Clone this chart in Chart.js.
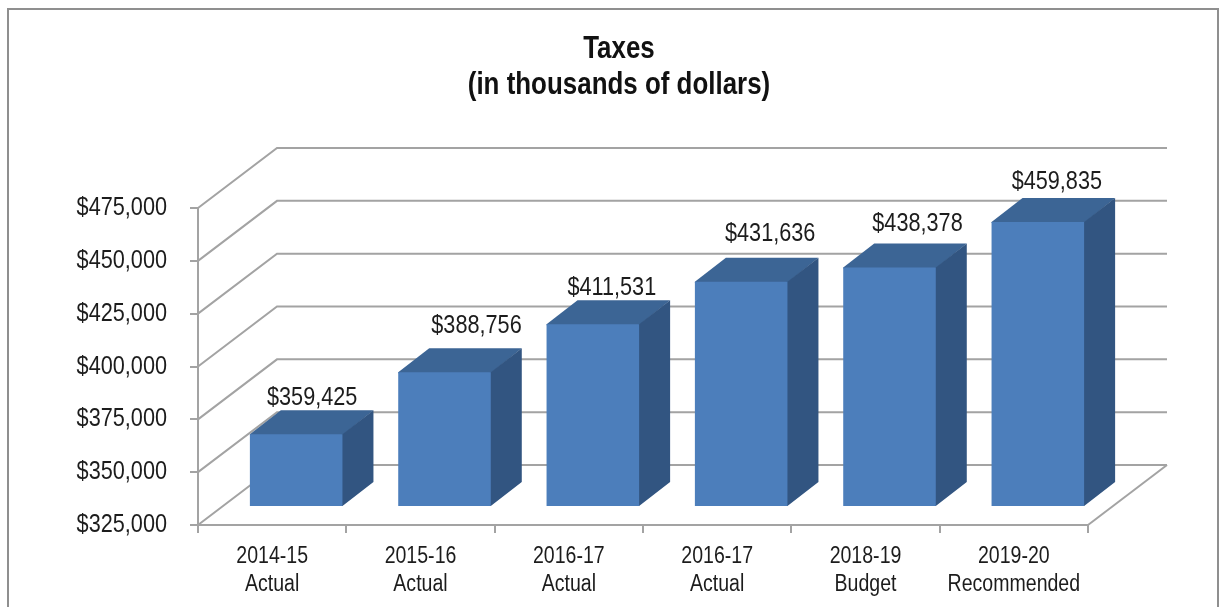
<!DOCTYPE html>
<html>
<head>
<meta charset="utf-8">
<title>Taxes</title>
<script src="https://cdn.jsdelivr.net/npm/chart.js@4"></script>
<style>
  html, body { margin: 0; padding: 0; background: #fff; overflow: hidden; }
  #wrap { width: 1225px; height: 607px; }
</style>
</head>
<body>
<div id="wrap"><canvas id="taxesChart" width="1225" height="607"></canvas></div>
<script>
const titleLines = ['Taxes', '(in thousands of dollars)']
const categories = [
  ['2014-15', 'Actual'],
  ['2015-16', 'Actual'],
  ['2016-17', 'Actual'],
  ['2016-17', 'Actual'],
  ['2018-19', 'Budget'],
  ['2019-20', 'Recommended'],
]
const taxValues = [359425, 388756, 411531, 431636, 438378, 459835]
const yMin = 325000
const yMax = 475000
const yStep = 25000

const FONT = '"Liberation Sans", Arial, sans-serif'
const TEXT = '#1c1c1c'
const GRID = '#a3a3a3'
const FRAME = '#8f8f8f'
// the original text is a narrow, stretched Arial
const TEXT_SQUEEZE = 0.85

// fake 3d, all in pixels
const wallDepth = { x: 79, y: -60 }
const barShift = { x: 24, y: -18 }
const barDepth = { x: 31, y: -24 }
// the labels in the picture do not sit at a fixed place over the bars
const labelNudge = [
  { x: 16, y: -29 }, { x: 32, y: -39 }, { x: 19, y: -29 },
  { x: 29, y: -41 }, { x: 28, y: -36 }, { x: 19, y: -33 },
]

const fake3d = {
  id: 'fake3d',
  afterLayout(chart) {
    // title is centred on the frame, not on the plot
    chart.titleBlock.left = 13
    chart.titleBlock.right = 1225
  },
  beforeDraw(chart) {
    const { ctx, width, height } = chart
    ctx.save()
    ctx.strokeStyle = FRAME
    ctx.lineWidth = 2
    ctx.beginPath()
    ctx.moveTo(8, height)
    ctx.lineTo(8, 9)
    ctx.lineTo(width - 7, 9)
    ctx.lineTo(width - 7, height)
    ctx.stroke()
    ctx.restore()
  },
  beforeDatasetsDraw(chart) {
    const { ctx, chartArea, scales } = chart
    ctx.save()
    ctx.strokeStyle = GRID
    ctx.lineWidth = 2
    ctx.lineJoin = 'miter'
    scales.y.ticks.forEach(t => {
      const y = scales.y.getPixelForValue(t.value)
      ctx.beginPath()
      ctx.moveTo(chartArea.left, y)
      ctx.lineTo(chartArea.left + wallDepth.x, y + wallDepth.y)
      ctx.lineTo(chartArea.right + wallDepth.x, y + wallDepth.y)
      ctx.stroke()
    })
    // right edge of the floor
    ctx.beginPath()
    ctx.moveTo(chartArea.right, chartArea.bottom)
    ctx.lineTo(chartArea.right + wallDepth.x, chartArea.bottom + wallDepth.y)
    ctx.stroke()
    ctx.restore()

    ctx.save()
    ctx.translate(barShift.x, barShift.y)
    chart.getDatasetMeta(0).data.forEach(bar => {
      const l = bar.x - bar.width / 2
      const r = bar.x + bar.width / 2
      // top face first, side over it, both run 1px under the front face so no seam shows
      ctx.fillStyle = '#3c6595'
      ctx.beginPath()
      ctx.moveTo(l, bar.y + 1)
      ctx.lineTo(l, bar.y)
      ctx.lineTo(l + barDepth.x, bar.y + barDepth.y)
      ctx.lineTo(r + barDepth.x, bar.y + barDepth.y)
      ctx.lineTo(r, bar.y + 1)
      ctx.closePath()
      ctx.fill()
      ctx.fillStyle = '#325581'
      ctx.beginPath()
      ctx.moveTo(r - 1, bar.y)
      ctx.lineTo(r, bar.y)
      ctx.lineTo(r + barDepth.x, bar.y + barDepth.y)
      ctx.lineTo(r + barDepth.x, bar.base + barDepth.y)
      ctx.lineTo(r, bar.base)
      ctx.lineTo(r - 1, bar.base)
      ctx.closePath()
      ctx.fill()
    })
    // front faces are drawn by the library inside this translate
  },
  afterDatasetsDraw(chart) {
    const { ctx } = chart
    ctx.restore()
    ctx.save()
    ctx.font = '25.5px ' + FONT
    ctx.fillStyle = TEXT
    ctx.textAlign = 'center'
    ctx.textBaseline = 'alphabetic'
    chart.getDatasetMeta(0).data.forEach((bar, i) => {
      const n = labelNudge[i]
      ctx.fillText(fmtMoney(taxValues[i]), bar.x + barShift.x + n.x, bar.y + barShift.y + n.y)
    })
    ctx.restore()
  },
}

function fmtMoney(v) {
  return '$' + v.toLocaleString('en-US')
}

const ctx = document.getElementById('taxesChart').getContext('2d')

// squeeze every text around its anchor, textAlign keeps working
const rawFillText = ctx.fillText.bind(ctx)
ctx.fillText = (s, x, y) => {
  ctx.save()
  ctx.translate(x, y)
  ctx.scale(TEXT_SQUEEZE, 1)
  rawFillText(s, 0, 0)
  ctx.restore()
}

new Chart(ctx, {
  type: 'bar',
  data: {
    labels: categories,
    datasets: [{
      data: taxValues,
      base: yMin,
      backgroundColor: '#4c7ebb',
      borderWidth: 0,
      barPercentage: 0.624,
      categoryPercentage: 1,
      clip: false,
    }],
  },
  options: {
    responsive: false,
    animation: false,
    layout: { padding: { left: 0, right: 137, top: 0, bottom: 0 } },
    plugins: {
      legend: { display: false },
      tooltip: { enabled: false },
      title: {
        display: true,
        text: titleLines,
        color: '#111',
        font: { family: FONT, size: 30.5, weight: 'bold', lineHeight: 1.2 },
        padding: { top: 31, bottom: 103.8 },
      },
    },
    scales: {
      x: {
        afterFit(scale) { scale.height = 82 },
        grid: { color: GRID, lineWidth: 2, drawOnChartArea: false, tickLength: 8 },
        border: { color: GRID, width: 2 },
        ticks: {
          color: TEXT,
          padding: 10,
          maxRotation: 0,
          autoSkip: false,
          font: { family: FONT, size: 23, lineHeight: 1.2 },
        },
      },
      y: {
        min: yMin,
        max: yMax,
        afterFit(scale) { scale.width = 198 },
        grid: { color: GRID, lineWidth: 2, drawOnChartArea: false, tickLength: 8 },
        border: { color: GRID, width: 2 },
        ticks: {
          stepSize: yStep,
          color: TEXT,
          padding: 23,
          callback: v => fmtMoney(v),
          font: { family: FONT, size: 25.5 },
        },
      },
    },
  },
  plugins: [fake3d],
})
</script>
</body>
</html>
